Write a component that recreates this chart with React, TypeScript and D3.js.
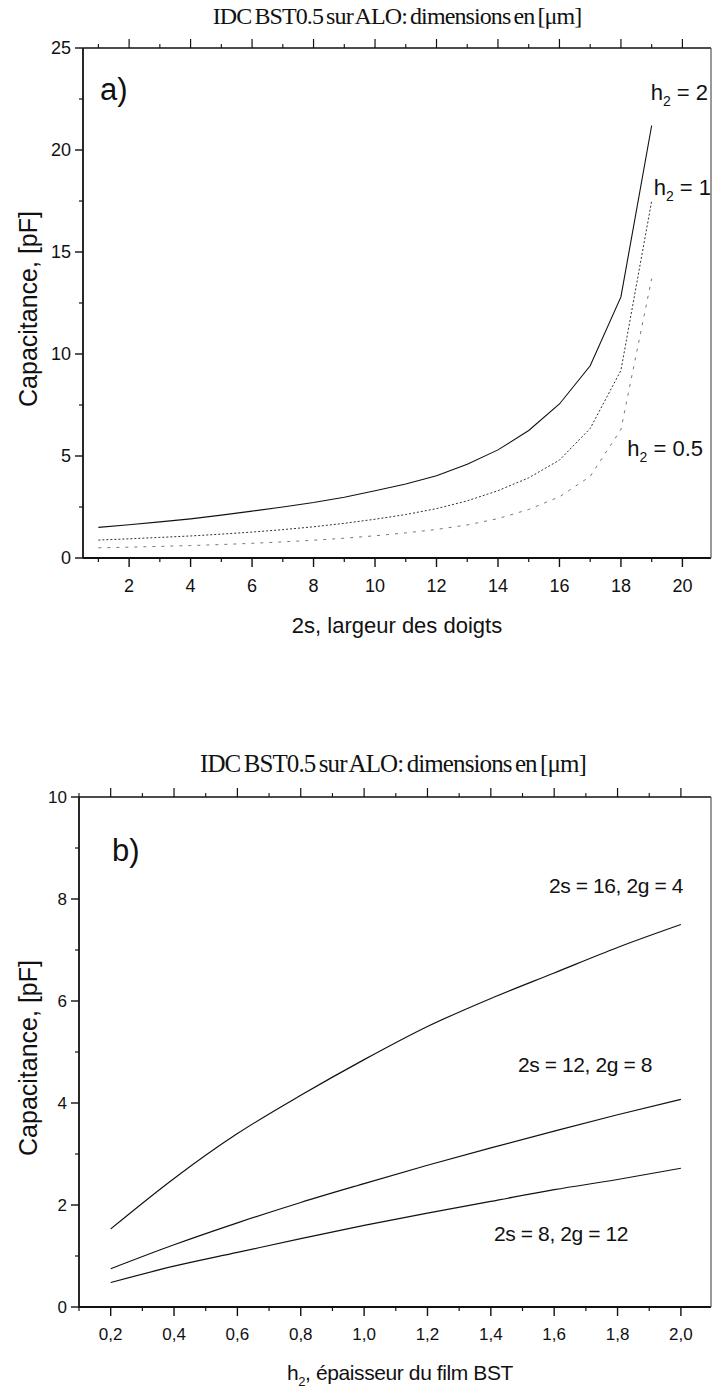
import React from 'react';
import * as d3 from 'd3';

const W = 712;
const H = 1393;

// ---------- Panel a data ----------
const fingerWidth = [1, 2, 3, 4, 5, 6, 7, 8, 9, 10, 11, 12, 13, 14, 15, 16, 17, 18, 19];
const capH2_2 = [1.5, 1.63, 1.77, 1.92, 2.1, 2.3, 2.5, 2.72, 2.98, 3.3, 3.63, 4.03, 4.6, 5.3, 6.25, 7.55, 9.42, 12.8, 21.2];
const capH2_1 = [0.88, 0.94, 1.01, 1.08, 1.17, 1.27, 1.39, 1.53, 1.7, 1.9, 2.13, 2.42, 2.8, 3.3, 3.93, 4.8, 6.35, 9.2, 17.5];
const capH2_05 = [0.5, 0.53, 0.57, 0.61, 0.66, 0.72, 0.79, 0.87, 0.97, 1.09, 1.23, 1.4, 1.62, 1.93, 2.38, 3.0, 4.0, 6.3, 13.7];
const xTicksA = [2, 4, 6, 8, 10, 12, 14, 16, 18, 20];
const xMinorA = [1, 3, 5, 7, 9, 11, 13, 15, 17, 19];
const yTicksA = [0, 5, 10, 15, 20, 25];
const yMinorA = [2.5, 7.5, 12.5, 17.5, 22.5];

// ---------- Panel b data ----------
const filmThickness = [0.2, 0.4, 0.6, 0.8, 1.0, 1.2, 1.4, 1.6, 1.8, 2.0];
const cap16_4 = [1.53, 2.52, 3.4, 4.15, 4.85, 5.5, 6.05, 6.55, 7.05, 7.5];
const cap12_8 = [0.75, 1.22, 1.65, 2.05, 2.42, 2.78, 3.12, 3.45, 3.77, 4.07];
const cap8_12 = [0.48, 0.8, 1.07, 1.34, 1.6, 1.84, 2.07, 2.3, 2.5, 2.72];
const xTicksB = [0.2, 0.4, 0.6, 0.8, 1.0, 1.2, 1.4, 1.6, 1.8, 2.0];
const xMinorB = [0.1, 0.3, 0.5, 0.7, 0.9, 1.1, 1.3, 1.5, 1.7, 1.9];
const yTicksB = [0, 2, 4, 6, 8, 10];
const yMinorB = [1, 3, 5, 7, 9];

const SANS = "'Liberation Sans', Arial, sans-serif";
const SERIF = "'Liberation Serif', 'Times New Roman', serif";

type Frame = { x0: number; x1: number; y0: number; y1: number };

function Axes({ fr, x, y, xt, xm, yt, ym, xfmt, tickFont, labelBase }: any) {
  const major = 9;
  const minor = 4;
  return (
    <g>
      <line x1={fr.x0} x2={fr.x1} y1={fr.y1} y2={fr.y1} stroke="#111" strokeWidth={1.6} />
      <line x1={fr.x0} x2={fr.x1} y1={fr.y0} y2={fr.y0} stroke="#111" strokeWidth={1.8} />
      <line x1={fr.x0} x2={fr.x0} y1={fr.y0} y2={fr.y1} stroke="#111" strokeWidth={1.8} />
      <line x1={fr.x1} x2={fr.x1} y1={fr.y0} y2={fr.y1} stroke="#555" strokeWidth={1.2} />
      {xt.map((t: number) => (
        <g key={'xt' + t}>
          <line x1={x(t)} x2={x(t)} y1={fr.y0} y2={fr.y0 + major} stroke="#111" strokeWidth={1.4} />
          <line x1={x(t)} x2={x(t)} y1={fr.y1} y2={fr.y1 - major} stroke="#111" strokeWidth={1.2} />
          <text x={x(t)} y={labelBase} textAnchor="middle" fontFamily={SANS} fontSize={tickFont} fill="#111">
            {xfmt(t)}
          </text>
        </g>
      ))}
      {xm.map((t: number) => (
        <g key={'xm' + t}>
          <line x1={x(t)} x2={x(t)} y1={fr.y0} y2={fr.y0 + minor} stroke="#111" strokeWidth={1.2} />
          <line x1={x(t)} x2={x(t)} y1={fr.y1} y2={fr.y1 - minor} stroke="#111" strokeWidth={1.1} />
        </g>
      ))}
      {yt.map((t: number) => (
        <g key={'yt' + t}>
          <line x1={fr.x0 - 8} x2={fr.x0} y1={y(t)} y2={y(t)} stroke="#111" strokeWidth={1.4} />
          <text x={fr.x0 - 12} y={y(t)} dy="0.36em" textAnchor="end" fontFamily={SANS} fontSize={tickFont} fill="#111">
            {t}
          </text>
        </g>
      ))}
      {ym.map((t: number) => (
        <line key={'ym' + t} x1={fr.x0 - 4} x2={fr.x0} y1={y(t)} y2={y(t)} stroke="#111" strokeWidth={1.2} />
      ))}
    </g>
  );
}

function PanelA() {
  const fr: Frame = { x0: 83, x1: 711, y0: 558, y1: 48 };
  const x = d3.scaleLinear().domain([0.5, 20.93]).range([fr.x0, fr.x1]);
  const y = d3.scaleLinear().domain([0, 25]).range([fr.y0, fr.y1]);
  const line = (vals: number[]) =>
    d3.line<number>().x((_, i) => x(fingerWidth[i])).y((v) => y(v))(vals) || '';
  return (
    <g>
      <text x={397} y={24} textAnchor="middle" fontFamily={SERIF} fontSize={24} letterSpacing={-0.9} wordSpacing={-2} fill="#111">
        IDC BST0.5 sur ALO: dimensions en [μm]
      </text>
      <Axes fr={fr} x={x} y={y} xt={xTicksA} xm={xMinorA} yt={yTicksA} ym={yMinorA}
        xfmt={(t: number) => String(t)} tickFont={18} labelBase={592} />
      <path d={line(capH2_2)} fill="none" stroke="#111" strokeWidth={1.1} />
      <path d={line(capH2_1)} fill="none" stroke="#333" strokeWidth={1} strokeDasharray="2,2" />
      <path d={line(capH2_05)} fill="none" stroke="#777" strokeWidth={1} strokeDasharray="3,6" />
      <text x={100} y={100} fontFamily={SANS} fontSize={31} fill="#111">a)</text>
      <text x={708} y={100} textAnchor="end" fontFamily={SANS} fontSize={22} fill="#111">
        h<tspan fontSize={14} dy={6}>2</tspan><tspan dy={-6}> = 2</tspan>
      </text>
      <text x={711} y={195} textAnchor="end" fontFamily={SANS} fontSize={22} fill="#111">
        h<tspan fontSize={14} dy={6}>2</tspan><tspan dy={-6}> = 1</tspan>
      </text>
      <text x={703} y={456} textAnchor="end" fontFamily={SANS} fontSize={22} fill="#111">
        h<tspan fontSize={14} dy={6}>2</tspan><tspan dy={-6}> = 0.5</tspan>
      </text>
      <text x={397} y={633} textAnchor="middle" fontFamily={SANS} fontSize={22} fill="#111">
        2s, largeur des doigts
      </text>
      <text transform={`translate(37,${309}) rotate(-90)`} textAnchor="middle" fontFamily={SANS} fontSize={25} fill="#111">
        Capacitance, [pF]
      </text>
    </g>
  );
}

function PanelB() {
  const fr: Frame = { x0: 79, x1: 711, y0: 1307, y1: 797 };
  const x = d3.scaleLinear().domain([0.1, 2.095]).range([fr.x0, fr.x1]);
  const y = d3.scaleLinear().domain([0, 10]).range([fr.y0, fr.y1]);
  const line = (vals: number[]) =>
    d3.line<number>().x((_, i) => x(filmThickness[i])).y((v) => y(v)).curve(d3.curveMonotoneX)(vals) || '';
  const fmt = (t: number) => t.toFixed(1).replace('.', ',');
  return (
    <g>
      <text x={393} y={772} textAnchor="middle" fontFamily={SERIF} fontSize={25} letterSpacing={-0.9} wordSpacing={-2} fill="#111">
        IDC BST0.5 sur ALO: dimensions en [μm]
      </text>
      <Axes fr={fr} x={x} y={y} xt={xTicksB} xm={xMinorB} yt={yTicksB} ym={yMinorB}
        xfmt={fmt} tickFont={17} labelBase={1340} />
      <path d={line(cap16_4)} fill="none" stroke="#111" strokeWidth={1.2} />
      <path d={line(cap12_8)} fill="none" stroke="#111" strokeWidth={1.2} />
      <path d={line(cap8_12)} fill="none" stroke="#111" strokeWidth={1.2} />
      <text x={112} y={861} fontFamily={SANS} fontSize={31} fill="#111">b)</text>
      <text x={683} y={893} textAnchor="end" fontFamily={SANS} fontSize={21} letterSpacing={-0.4} fill="#111">
        2s = 16, 2g = 4
      </text>
      <text x={652} y={1072} textAnchor="end" fontFamily={SANS} fontSize={21} letterSpacing={-0.4} fill="#111">
        2s = 12, 2g = 8
      </text>
      <text x={494} y={1241} fontFamily={SANS} fontSize={21} letterSpacing={-0.4} fill="#111">
        2s = 8, 2g = 12
      </text>
      <text x={400} y={1380} textAnchor="middle" fontFamily={SANS} fontSize={21} letterSpacing={-0.4} fill="#111">
        h<tspan fontSize={13} dy={6}>2</tspan><tspan dy={-6}>, épaisseur du film BST</tspan>
      </text>
      <text transform={`translate(37,${1058}) rotate(-90)`} textAnchor="middle" fontFamily={SANS} fontSize={25} fill="#111">
        Capacitance, [pF]
      </text>
    </g>
  );
}

export default function App() {
  return (
    <svg width={W} height={H} viewBox={`0 0 ${W} ${H}`}
      style={{ position: 'absolute', left: 0, top: 0, background: '#fff' }}>
      <rect x={0} y={0} width={W} height={H} fill="#fff" />
      <PanelA />
      <PanelB />
    </svg>
  );
}
